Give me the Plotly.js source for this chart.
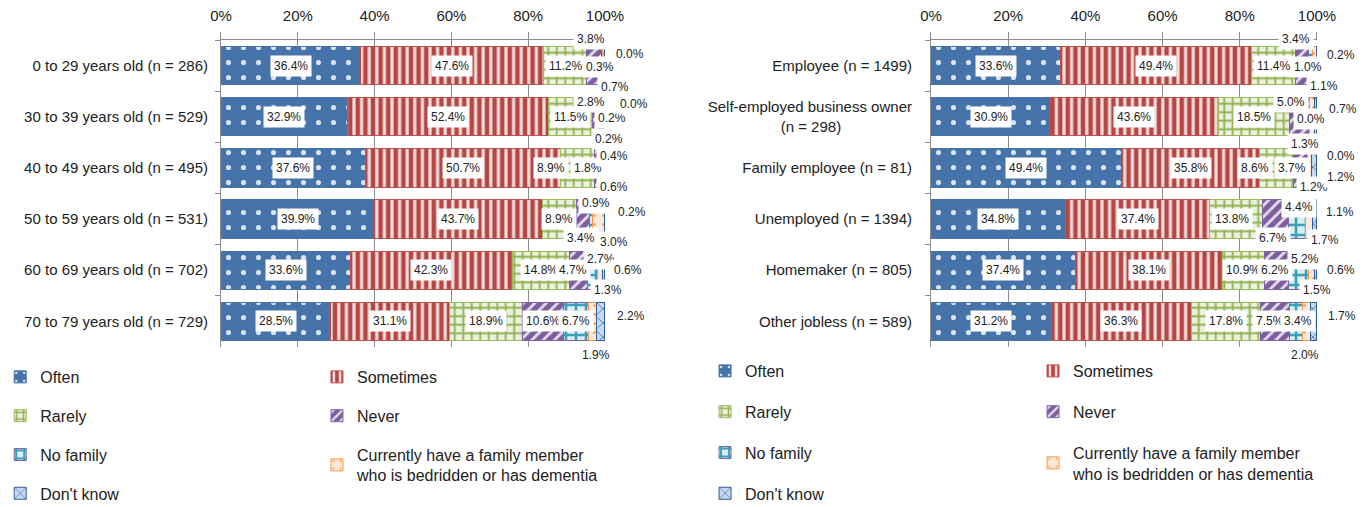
<!DOCTYPE html>
<html><head><meta charset="utf-8">
<script src="https://cdn.plot.ly/plotly-3.0.1.min.js"></script>
<style>html,body{margin:0;padding:0;background:#fff}#chart{width:1367px;height:507px}</style>
</head><body><div id="chart"></div>
<script>
// ---------- DATA ----------
const seriesNames = ['Often', 'Sometimes', 'Rarely', 'Never', 'No family',
  'Currently have a family member<br>who is bedridden or has dementia', "Don't know"];

const ageGroups = ['0 to 29 years old (n = 286)', '30 to 39 years old (n = 529)', '40 to 49 years old (n = 495)',
  '50 to 59 years old (n = 531)', '60 to 69 years old (n = 702)', '70 to 79 years old (n = 729)'];
const ageOften      = [36.4, 32.9, 37.6, 39.9, 33.6, 28.5];
const ageSometimes  = [47.6, 52.4, 50.7, 43.7, 42.3, 31.1];
const ageRarely     = [11.2, 11.5, 8.9, 8.9, 14.8, 18.9];
const ageNever      = [3.8, 2.8, 1.8, 3.4, 4.7, 10.6];
const ageNoFamily   = [0.3, 0.2, 0.4, 0.9, 2.7, 6.7];
const ageBedridden  = [0.7, 0.2, 0.6, 3.0, 1.3, 1.9];
const ageDontKnow   = [0.0, 0.0, 0.0, 0.2, 0.6, 2.2];

const jobGroups = ['Employee (n = 1499)', 'Self-employed business owner<br>(n = 298)', 'Family employee (n = 81)',
  'Unemployed (n = 1394)', 'Homemaker (n = 805)', 'Other jobless (n = 589)'];
const jobOften      = [33.6, 30.9, 49.4, 34.8, 37.4, 31.2];
const jobSometimes  = [49.4, 43.6, 35.8, 37.4, 38.1, 36.3];
const jobRarely     = [11.4, 18.5, 8.6, 13.8, 10.9, 17.8];
const jobNever      = [3.4, 5.0, 3.7, 6.7, 6.2, 7.5];
const jobNoFamily   = [1.0, 0.0, 0.0, 4.4, 5.2, 3.4];
const jobBedridden  = [1.1, 1.3, 1.2, 1.7, 1.5, 2.0];
const jobDontKnow   = [0.2, 0.7, 1.2, 1.1, 0.6, 1.7];

const xTickVals = [0, 20, 40, 60, 80, 100];
const xTickText = ['0%', '20%', '40%', '60%', '80%', '100%'];

// ---------- STYLES ----------
const styles = [
  {color:'#4673aa', line:'#4673aa', pattern:{shape:'.', fgcolor:'#dce6f2', bgcolor:'#4673aa', size:15, solidity:0.09}},
  {color:'#b54643', line:'#c0504d', pattern:{shape:'|', fgcolor:'#f2dcdb', bgcolor:'#b54643', size:7.6, solidity:0.42}},
  {color:'#ebf1de', line:'#9bbb59', pattern:{shape:'+', fgcolor:'#8fb04f', bgcolor:'#ebf1de', size:8.5, solidity:0.38}},
  {color:'#8064a2', line:'#8064a2', pattern:{shape:'/', fgcolor:'#e4dfec', bgcolor:'#7d5fa0', size:8, solidity:0.35}},
  {color:'#4bacc6', line:'#8064a2', pattern:{shape:'+', fgcolor:'#3d9fb8', bgcolor:'#daeef3', size:10, solidity:0.45}},
  {color:'#fde9d9', line:'#f79646', pattern:{shape:'.', fgcolor:'#f79646', bgcolor:'#fde9d9', size:9, solidity:0.06}},
  {color:'#c6d9f1', line:'#2f5f99', pattern:{shape:'x', fgcolor:'#3a6aa6', bgcolor:'#c6d9f1', size:10, solidity:0.15}}
];

// label offsets [dx, dy] in px (downward positive) for crowded segments; others centred
const ageShift = [
  {3:[-3,-27], 4:[-2,1], 5:[11,21], 6:[25,-12]},
  {3:[-7,-15], 4:[8,1], 5:[4,22], 6:[29,-13]},
  {2:[-26,0], 3:[-10,0], 4:[12,-12], 5:[10,19], 6:[27,5]},
  {3:[-2,19], 4:[5,-16], 5:[16,23], 6:[27,-7]},
  {3:[-5,0], 4:[8,-11], 5:[8,20], 6:[24,0]},
  {5:[3,34], 6:[31,-5]}
];
const jobShift = [
  {3:[-6,-27], 4:[-2,1], 5:[10,20], 6:[24,-11]},
  {3:[-9,-15], 4:[2,2], 5:[-7,27], 6:[27,-8]},
  {2:[-21,0], 3:[-8,0], 4:[34,-12], 5:[4,19], 6:[27,9]},
  {2:[-4,0], 3:[-3,19], 4:[2,-12], 5:[16,21], 6:[26,-7]},
  {3:[-1,0], 4:[7,-11], 5:[6,20], 6:[26,0]},
  {3:[-5,0], 4:[2,0], 5:[-1,34], 6:[29,-5]}
];

const FONT = '"Liberation Sans", Arial, sans-serif';
const ageSeries = [ageOften, ageSometimes, ageRarely, ageNever, ageNoFamily, ageBedridden, ageDontKnow];
const jobSeries = [jobOften, jobSometimes, jobRarely, jobNever, jobNoFamily, jobBedridden, jobDontKnow];

// legend columns: even index -> first column, odd -> second column
function makeTraces(series, cats, xa, ya, legA, legB, prefix) {
  return series.map((vals, s) => ({
    type:'bar', orientation:'h', x:vals, y:cats, name:seriesNames[s],
    xaxis:xa, yaxis:ya, legend:(s % 2 === 0 ? legA : legB), legendgroup:prefix + s,
    hoverinfo:'skip',
    marker:{color:styles[s].color, line:{color:styles[s].line, width:1},
      pattern:Object.assign({fillmode:'replace'}, styles[s].pattern)}
  }));
}

function makeLabels(series, cats, xa, ya, shifts) {
  const anns = [];
  cats.forEach((c, r) => {
    let cum = 0;
    series.forEach((vals, s) => {
      const v = vals[r];
      const sh = shifts[r][s] || [0, 0];
      anns.push({x:cum + v / 2, y:c, xref:xa, yref:ya, text:v.toFixed(1) + '%', showarrow:false,
        xshift:sh[0], yshift:-sh[1], bgcolor:'#ffffff', borderpad:3,
        font:{family:FONT, size:12, color:'#222'}});
      cum += v;
    });
  });
  return anns;
}

// centre multi-line tick labels by padding later lines with no-break spaces
const ctx = document.createElement('canvas').getContext('2d');
ctx.font = '15px "Liberation Sans"';
function centred(label) {
  const lines = label.split('<br>');
  if (lines.length < 2) return label;
  const w0 = ctx.measureText(lines[0]).width;
  const sp = ctx.measureText('\u00a0').width || 4.17;
  return lines.map((ln, i) => {
    if (i === 0) return ln;
    const pad = Math.max(0, Math.round((w0 - ctx.measureText(ln).width) / 2 / sp));
    return ln + '\u00a0'.repeat(pad);
  }).join('<br>');
}

const traces = [].concat(
  makeTraces(ageSeries, ageGroups, 'x', 'y', 'legend', 'legend2', 'a'),
  makeTraces(jobSeries, jobGroups, 'x2', 'y2', 'legend3', 'legend4', 'b')
);

const xCommon = {range:[0, 100], autorange:false, tickmode:'array', tickvals:xTickVals, ticktext:xTickText, side:'top', showgrid:true,
  gridcolor:'#8c8c8c', gridwidth:1, showline:true, linecolor:'#8c8c8c', linewidth:1, ticks:'outside',
  ticklen:7, tickcolor:'#8c8c8c', zeroline:false, fixedrange:true, tickfont:{family:FONT, size:15, color:'#222'},
  ticklabelstandoff:5};
const yCommon = {type:'category', range:[ageGroups.length - 0.5, -0.5], autorange:false, showline:true,
  linecolor:'#8c8c8c', linewidth:1,
  ticks:'outside', tickson:'boundaries', ticklen:5, tickcolor:'#8c8c8c', showgrid:false, zeroline:false,
  fixedrange:true, tickfont:{family:FONT, size:15, color:'#222'}};

const legCommon = {orientation:'v', xanchor:'left', yanchor:'top', bgcolor:'rgba(0,0,0,0)',
  font:{family:FONT, size:16, color:'#222'}, itemclick:false, itemdoubleclick:false};

const layout = {
  width:1367, height:507, margin:{l:10, r:0, t:0, b:0, autoexpand:false},
  paper_bgcolor:'#ffffff', plot_bgcolor:'rgba(0,0,0,0)',
  barmode:'stack', bargap:0.25,
  font:{family:FONT, size:15, color:'#222'},
  xaxis:Object.assign({domain:[0.15549, 0.43847], anchor:'y'}, xCommon),
  yaxis:Object.assign({domain:[0.3156, 0.9211], anchor:'x', ticklabelstandoff:9}, yCommon),
  xaxis2:Object.assign({domain:[0.67870, 0.96315], anchor:'y2'}, xCommon),
  yaxis2:Object.assign({domain:[0.3156, 0.9211], anchor:'x2', ticklabelstandoff:15,
    tickmode:'array', tickvals:jobGroups, ticktext:jobGroups.map(centred)}, yCommon),
  legend: Object.assign({x:-0.0072, y:0.29, tracegroupgap:15}, legCommon),
  legend2:Object.assign({x:0.2262, y:0.29, tracegroupgap:15}, legCommon),
  legend3:Object.assign({x:0.5122, y:0.3018, tracegroupgap:17}, legCommon),
  legend4:Object.assign({x:0.7539, y:0.3018, tracegroupgap:17}, legCommon),
  annotations:[].concat(
    makeLabels(ageSeries, ageGroups, 'x', 'y', ageShift),
    makeLabels(jobSeries, jobGroups, 'x2', 'y2', jobShift)
  )
};

Plotly.newPlot('chart', traces, layout, {displayModeBar:false, staticPlot:true});
</script>
</body></html>
